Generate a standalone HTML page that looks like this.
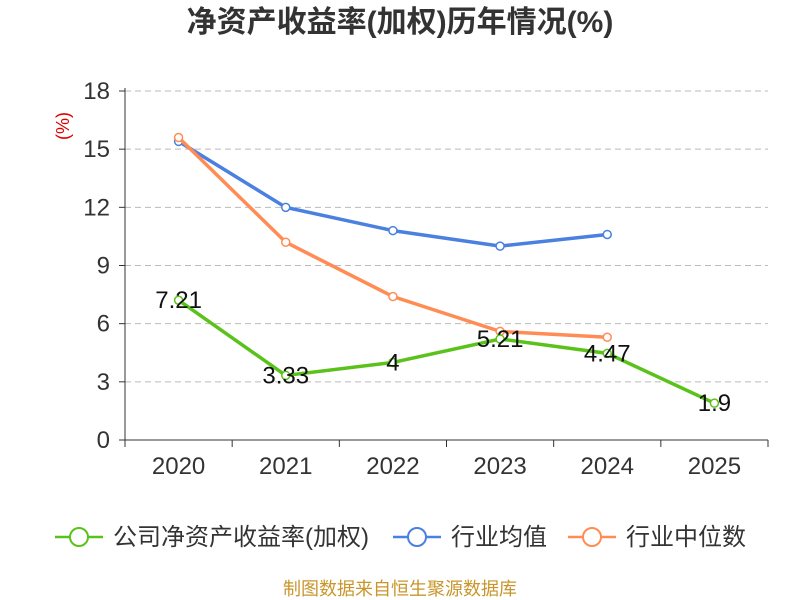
<!DOCTYPE html>
<html><head><meta charset="utf-8"><style>
body{margin:0;background:#fff;}
svg{display:block;font-family:"Liberation Sans","Noto Sans CJK SC",sans-serif;}
</style></head><body>
<svg id="c" width="800" height="600">
<text x="400" y="32" text-anchor="middle" font-size="30" font-weight="bold" fill="#333">净资产收益率(加权)历年情况(%)</text>
<text transform="translate(69,126) rotate(-90)" text-anchor="middle" font-size="18" fill="#e00000">(%)</text>
<g id="grid"></g><g id="axes"></g><g id="series"></g>
<g font-size="24" fill="#333">
<g><line x1="55" y1="537" x2="103" y2="537" stroke="#5ac21a" stroke-width="2.5"/><circle cx="79" cy="537" r="9" fill="#fff" stroke="#5ac21a" stroke-width="2"/><text x="113" y="545">公司净资产收益率(加权)</text></g>
<g><line x1="393" y1="537" x2="441" y2="537" stroke="#4a80e0" stroke-width="2.5"/><circle cx="417" cy="537" r="9" fill="#fff" stroke="#4a80e0" stroke-width="2"/><text x="451" y="545">行业均值</text></g>
<g><line x1="568" y1="537" x2="616" y2="537" stroke="#ff8c55" stroke-width="2.5"/><circle cx="592" cy="537" r="9" fill="#fff" stroke="#ff8c55" stroke-width="2"/><text x="626" y="545">行业中位数</text></g>
</g>
<text x="400" y="595" text-anchor="middle" font-size="18" fill="#c8962a">制图数据来自恒生聚源数据库</text>
</svg>
<script>
const categories=['2020','2021','2022','2023','2024','2025'];
const companyValues=[7.21,3.33,4,5.21,4.47,1.9];
const avgValues=[15.4,12.0,10.8,10.0,10.6];
const medianValues=[15.6,10.2,7.4,5.6,5.3];
const yTicks=[0,3,6,9,12,15,18];
const NS='http://www.w3.org/2000/svg';
const L=125,R=768,T=91,B=440,yMax=18;
const bw=(R-L)/categories.length;
const x=i=>L+bw*(i+0.5);
const y=v=>B-(B-T)*v/yMax;
function mk(tag,attrs,parent){const e=document.createElementNS(NS,tag);for(const k in attrs)e.setAttribute(k,attrs[k]);parent.appendChild(e);return e;}
const grid=document.getElementById('grid'),axes=document.getElementById('axes'),ser=document.getElementById('series');
yTicks.forEach(t=>{
  if(t>0){const g=mk('line',{x1:L,x2:R,y1:y(t),y2:y(t),stroke:'#bbb','stroke-dasharray':'6,4'},grid);
  
  }
  const tk=mk('line',{x1:L-6,x2:L,y1:y(t),y2:y(t),stroke:'#333'},axes);
  
  
  const tx=mk('text',{x:L-15,y:y(t)+8,'text-anchor':'end','font-size':24,fill:'#333'},axes);
  tx.textContent=t;
  
  
});
const ya=mk('line',{x1:L,x2:L,y1:T-3,y2:B,stroke:'#333'},axes);


const xa=mk('line',{x1:L,x2:R,y1:B,y2:B,stroke:'#333'},axes);


for(let i=0;i<=categories.length;i++){const tk=mk('line',{x1:L+bw*i,x2:L+bw*i,y1:B,y2:B+7,stroke:'#333'},axes);

}
categories.forEach((c,i)=>{const tx=mk('text',{x:x(i),y:B+34,'text-anchor':'middle','font-size':24,fill:'#333'},axes);tx.textContent=c;

});
function series(vals,color,name,labels){
  const g=mk('g',{},ser);
  
  
  mk('polyline',{points:vals.map((v,i)=>x(i)+','+y(v)).join(' '),fill:'none',stroke:color,'stroke-width':3.5},g);
  vals.forEach((v,i)=>{const p=mk('circle',{cx:x(i),cy:y(v),r:4,fill:'#fff',stroke:color,'stroke-width':1.5},g);
  
  
  if(labels){const t=mk('text',{x:x(i),y:y(v)+8,'text-anchor':'middle','font-size':24,fill:'#111'},g);t.textContent=v;
  
  }});
}
series(avgValues,'#4a80e0','industry-avg-line',false);
series(medianValues,'#ff8c55','industry-median-line',false);
series(companyValues,'#5ac21a','company-roe-line',true);
</script>
</body></html>
